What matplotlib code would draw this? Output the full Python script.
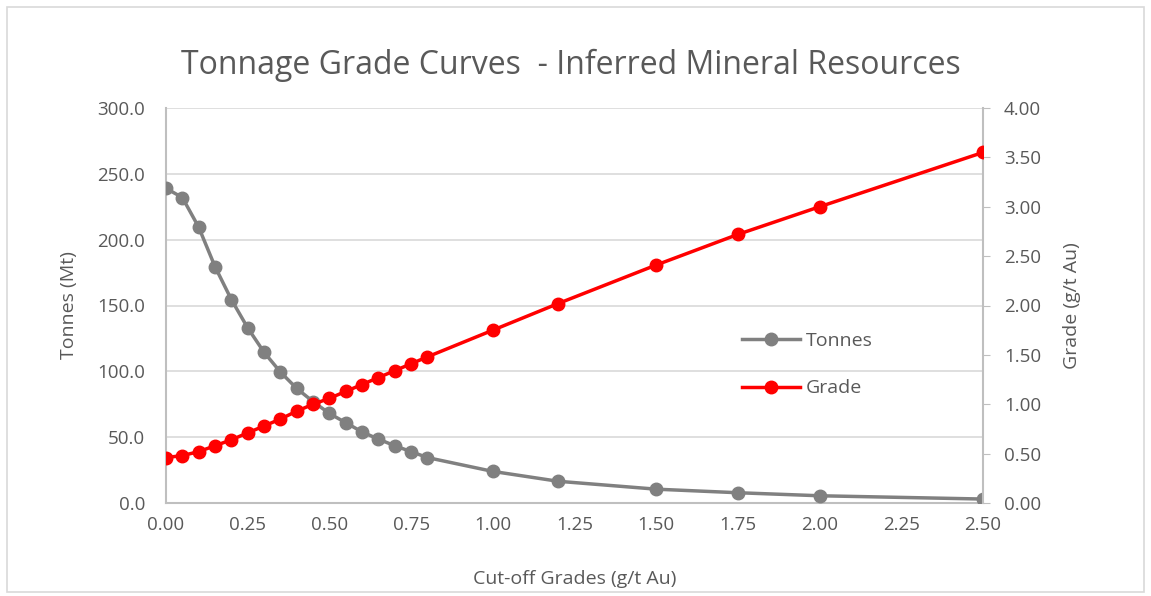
import matplotlib
matplotlib.use("Agg")
import matplotlib.pyplot as plt
from matplotlib.patches import Rectangle

cutoff = [0.00, 0.05, 0.10, 0.15, 0.20, 0.25, 0.30, 0.35, 0.40, 0.45, 0.50, 0.55,
          0.60, 0.65, 0.70, 0.75, 0.80, 1.00, 1.20, 1.50, 1.75, 2.00, 2.50]
tonnes = [239.0, 232.0, 209.5, 179.5, 154.5, 133.0, 114.5, 99.5, 87.0, 77.0, 68.0, 61.0,
          54.0, 48.5, 43.5, 39.0, 34.5, 24.0, 16.5, 10.5, 7.8, 5.5, 3.0]
grade = [0.46, 0.48, 0.52, 0.58, 0.64, 0.71, 0.78, 0.85, 0.93, 1.00, 1.06, 1.13,
         1.20, 1.27, 1.34, 1.41, 1.48, 1.75, 2.02, 2.41, 2.72, 3.00, 3.55]
xticks = [0.00, 0.25, 0.50, 0.75, 1.00, 1.25, 1.50, 1.75, 2.00, 2.25, 2.50]
yticks_left = [0, 50, 100, 150, 200, 250, 300]
yticks_right = [0, 0.5, 1.0, 1.5, 2.0, 2.5, 3.0, 3.5, 4.0]

plt.rcParams['font.family'] = ['Open Sans', 'DejaVu Sans']
txt = '#595959'
axcol = '#BFBFBF'

fig = plt.figure(figsize=(11.51, 5.96), dpi=100)
fig.patches.append(Rectangle((7/1151, 4/596), 1 - 14/1151, 1 - 11/596, transform=fig.transFigure,
                             fill=False, edgecolor='#D9D9D9', linewidth=1.2))
ax = fig.add_axes([166/1151, 1 - 503/596, (983 - 166)/1151, (503 - 108)/596])
ax2 = ax.twinx()

l1, = ax.plot(cutoff, tonnes, color='#808080', marker='o', markersize=9, linewidth=2.5,
              label='Tonnes', zorder=3)
l2, = ax2.plot(cutoff, grade, color='#FF0000', marker='o', markersize=9, linewidth=2.5,
               label='Grade', zorder=3)

ax.set_xlim(0, 2.5)
ax.set_ylim(0, 300)
ax2.set_ylim(0, 4)
ax.set_xticks(xticks)
ax.set_xticklabels([f'{v:.2f}' for v in xticks])
ax.set_yticks(yticks_left)
ax.set_yticklabels([f'{v:.1f}' for v in yticks_left])
ax2.set_yticks(yticks_right)
ax2.set_yticklabels([f'{v:.2f}' for v in yticks_right])

ax.grid(axis='y', color='#D9D9D9', linewidth=1.2)
ax.set_axisbelow(True)
for a in (ax, ax2):
    a.spines['top'].set_visible(False)
    a.tick_params(colors=txt, labelsize=13.5, length=0)
ax.spines['right'].set_visible(False)
ax2.spines['left'].set_visible(False)
ax2.spines['bottom'].set_visible(False)
for s in ('left', 'bottom'):
    ax.spines[s].set_color(axcol)
    ax.spines[s].set_linewidth(1.5)
ax2.spines['right'].set_color(axcol)
ax2.spines['right'].set_linewidth(1.5)
ax2.tick_params(axis='y', length=5, color=axcol, direction='out', pad=10)
ax.tick_params(axis='x', pad=9)
ax.tick_params(axis='y', pad=15)

ax.set_xlabel('Cut-off Grades (g/t Au)', color=txt, fontsize=14, labelpad=26)
ax.set_ylabel('Tonnes (Mt)', color=txt, fontsize=14, labelpad=14)
ax2.set_ylabel('Grade (g/t Au)', color=txt, fontsize=14, labelpad=16)

fig.text(0.496, 1 - 65/596, 'Tonnage Grade Curves  - Inferred Mineral Resources',
         ha='center', va='center', fontsize=23, color=txt)

leg = ax.legend([l1, l2], ['Tonnes', 'Grade'], loc='center left',
                bbox_to_anchor=(0.705, 0.35), frameon=False, fontsize=14,
                labelcolor=txt, handlelength=3, labelspacing=1.5, handletextpad=0.3,
                borderpad=0, borderaxespad=0)

fig.savefig('out.png', dpi=100)
